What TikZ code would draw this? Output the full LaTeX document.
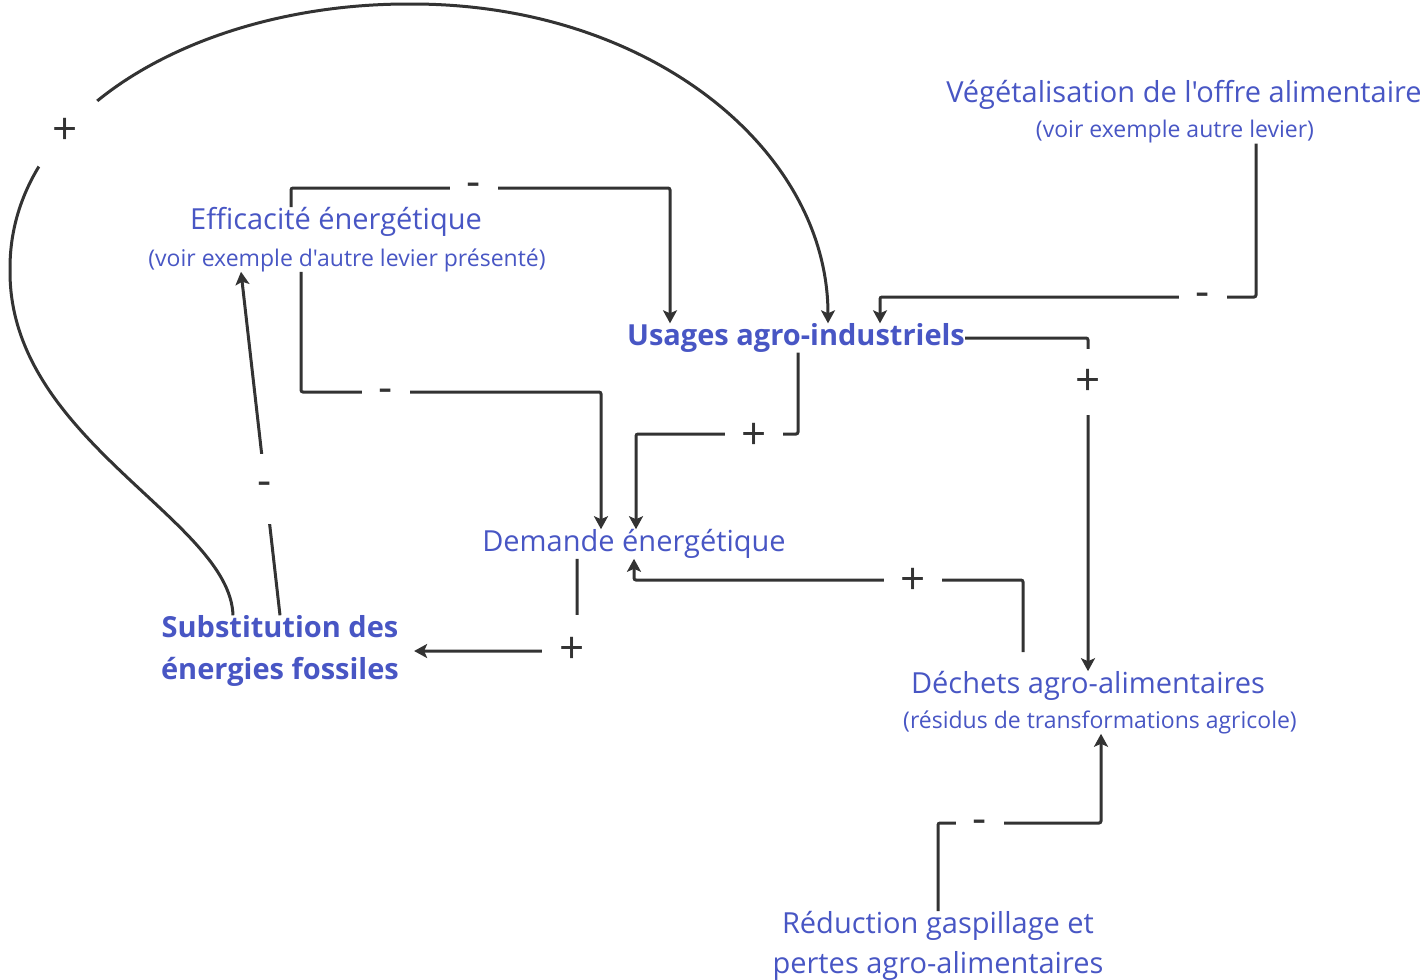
\documentclass[tikz,border=0pt]{standalone}
\usepackage{fontspec}
\setmainfont{Open Sans}[Ligatures=TeXOff]
\usetikzlibrary{arrows.meta,calc}
\definecolor{lbl}{RGB}{72,86,196}
\definecolor{ln}{RGB}{51,51,51}
\begin{document}
\begin{tikzpicture}[x=1pt,y=-1pt,
  big/.style={text=lbl,font=\fontsize{29}{40}\selectfont,inner sep=0pt,align=center},
  bigb/.style={text=lbl,font=\fontsize{29}{42}\selectfont\bfseries,inner sep=0pt,align=center},
  small/.style={text=lbl,font=\fontsize{23}{26}\selectfont,inner sep=0pt},
  conn/.style={draw=ln,line width=3pt,-{Stealth[length=13pt,width=14pt,inset=3pt]},rounded corners=2pt},
  sign/.style={text=ln,font=\fontsize{44}{44}\selectfont,fill=white,inner sep=0pt,minimum width=48pt,minimum height=44pt}]
\useasboundingbox (0,0) rectangle (1425,980);
% nodes
\node[big] (veg) at (1184,95) {Végétalisation de l'offre alimentaire};
\node[small] (vegs) at (1175,132) {(voir exemple autre levier)};
\node[big] (eff) at (336,222) {Efficacité énergétique};
\node[small] (effs) at (347,260) {(voir exemple d'autre levier présenté)};
\node[bigb] (usa) at (796,338) {Usages agro-industriels};
\node[big] (dem) at (634,544) {Demande énergétique};
\node[bigb] (sub) at (280,651) {Substitution des\\énergies fossiles};
\node[big] (dec) at (1088,686) {Déchets agro-alimentaires};
\node[small] (decs) at (1100,722) {(résidus de transformations agricole)};
\node[big] (red) at (938,946) {Réduction gaspillage et\\pertes agro-alimentaires};
% connectors
\draw[conn] (sub.north -| 233,0) .. controls (230,520) and (10,440) .. (10,270)
  .. controls (10,110) and (200,4) .. (410,4)
  .. controls (650,4) and (828,150) .. (usa.north -| 828,0);
\draw[conn] (eff.north -| 291,0) |- (670,188) -- (usa.north -| 670,0);
\draw[conn] (effs.south -| 301,0) |- (601,392) -- (dem.north -| 601,0);
\draw[conn] (usa.south -| 798,0) |- (636,434) -- (dem.north -| 636,0);
\draw[conn] (vegs.south -| 1256,0) |- (880,297) -- (usa.north -| 880,0);
\draw[conn] (usa.east) -| (dec.north);
\draw[conn,shorten <=19pt] (dec.north -| 1023,0) |- (634,580) -- (dem.south -| 634,0);
\draw[conn,shorten >=15pt] (dem.south -| 577,0) |- (sub.east);
\draw[conn] (sub.north) -- (effs.south -| 241,0);
\draw[conn] (red.north -| 938,0) |- (1101,823) -- (decs.south -| 1101,0);
% signs
\node[sign,circle,minimum size=88pt] (s1) at (65,131) {+};
\node[sign] (s2) at (474,190) {-};
\node[sign] (s3) at (386,396) {-};
\node[sign,minimum width=58pt] (s4) at (754,436) {+};
\node[sign] (s5) at (1203,300) {-};
\node[sign,minimum height=66pt] (s6) at (1088,382) {+};
\node[sign,minimum width=58pt] (s7) at (913,581) {+};
\node[sign,minimum width=60pt,minimum height=70pt] (s8) at (572,650) {+};
\node[sign,minimum width=24pt,minimum height=70pt] (s9) at (265,489) {-};
\node[sign] (s10) at (980,827) {-};
\end{tikzpicture}
\end{document}
